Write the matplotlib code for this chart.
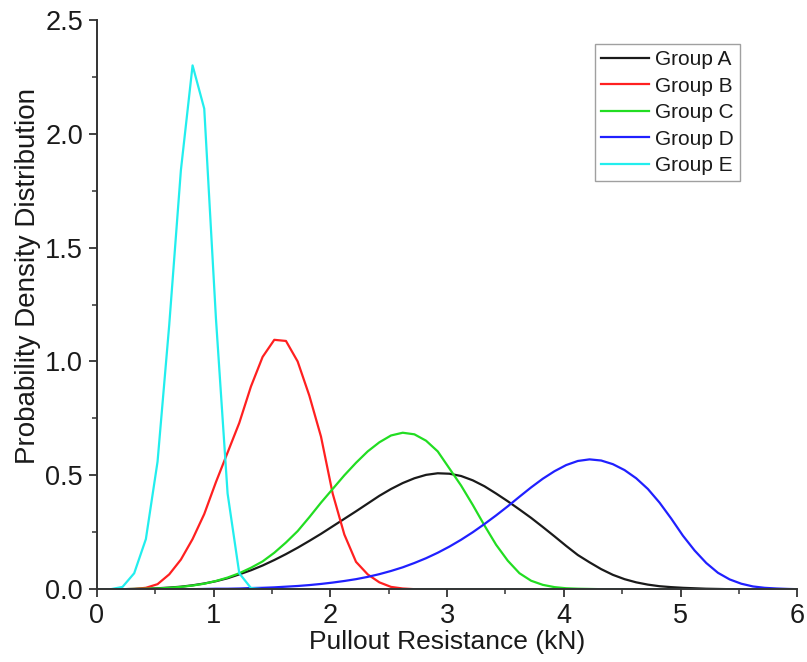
import matplotlib
matplotlib.use('agg')
import matplotlib.pyplot as plt
from matplotlib.ticker import MultipleLocator, FormatStrFormatter

plt.rcParams['font.family'] = ['Liberation Sans', 'DejaVu Sans']

# sample positions (kN), shared by all groups
x_grid = [0.0, 0.12, 0.22, 0.32, 0.42, 0.52, 0.62, 0.72, 0.82, 0.92,
          1.02, 1.12, 1.22, 1.32, 1.42, 1.52, 1.62, 1.72, 1.82, 1.92,
          2.02, 2.12, 2.22, 2.32, 2.42, 2.52, 2.62, 2.72, 2.82, 2.92,
          3.02, 3.12, 3.22, 3.32, 3.42, 3.52, 3.62, 3.72, 3.82, 3.92,
          4.02, 4.12, 4.22, 4.32, 4.42, 4.52, 4.62, 4.72, 4.82, 4.92,
          5.02, 5.12, 5.22, 5.32, 5.42, 5.52, 5.62, 5.72, 5.82, 5.92,
          6.0]

group_a = [0, 0, 0, 0.001, 0.002, 0.004, 0.007, 0.011, 0.017, 0.025,
           0.035, 0.048, 0.065, 0.083, 0.104, 0.128, 0.154, 0.182, 0.212, 0.243,
           0.276, 0.309, 0.342, 0.376, 0.410, 0.440, 0.466, 0.487, 0.502, 0.509,
           0.507, 0.497, 0.478, 0.452, 0.420, 0.386, 0.350, 0.313, 0.273, 0.232,
           0.190, 0.150, 0.118, 0.088, 0.063, 0.044, 0.030, 0.020, 0.013, 0.009,
           0.006, 0.004, 0.002, 0.001, 0, 0, 0, 0, 0, 0,
           0]

group_b = [0, 0, 0, 0.001, 0.006, 0.022, 0.065, 0.13, 0.22, 0.33,
           0.47, 0.60, 0.73, 0.89, 1.02, 1.095, 1.09, 1.00, 0.85, 0.67,
           0.42, 0.24, 0.12, 0.065, 0.03, 0.01, 0.003, 0, 0, 0,
           0, 0, 0, 0, 0, 0, 0, 0, 0, 0,
           0, 0, 0, 0, 0, 0, 0, 0, 0, 0,
           0, 0, 0, 0, 0, 0, 0, 0, 0, 0,
           0]

group_c = [0, 0, 0, 0.001, 0.002, 0.003, 0.006, 0.010, 0.016, 0.024,
           0.036, 0.051, 0.070, 0.094, 0.122, 0.160, 0.205, 0.255, 0.316, 0.380,
           0.440, 0.500, 0.555, 0.605, 0.645, 0.675, 0.687, 0.680, 0.652, 0.605,
           0.530, 0.455, 0.370, 0.280, 0.195, 0.125, 0.070, 0.037, 0.019, 0.009,
           0.004, 0.002, 0.001, 0, 0, 0, 0, 0, 0, 0,
           0, 0, 0, 0, 0, 0, 0, 0, 0, 0,
           0]

group_d = [0, 0, 0, 0, 0, 0, 0, 0, 0, 0.001,
           0.002, 0.002, 0.003, 0.005, 0.006, 0.008, 0.011, 0.014, 0.018, 0.023,
           0.029, 0.036, 0.044, 0.054, 0.066, 0.080, 0.096, 0.115, 0.136, 0.160,
           0.187, 0.217, 0.250, 0.286, 0.324, 0.364, 0.406, 0.447, 0.485, 0.518,
           0.545, 0.563, 0.570, 0.565, 0.549, 0.523, 0.487, 0.440, 0.380, 0.310,
           0.235, 0.170, 0.115, 0.072, 0.043, 0.024, 0.012, 0.006, 0.003, 0.001,
           0]

group_e = [0, 0, 0.01, 0.07, 0.22, 0.56, 1.16, 1.84, 2.30, 2.11,
           1.19, 0.42, 0.07, 0.005, 0, 0, 0, 0, 0, 0,
           0, 0, 0, 0, 0, 0, 0, 0, 0, 0,
           0, 0, 0, 0, 0, 0, 0, 0, 0, 0,
           0, 0, 0, 0, 0, 0, 0, 0, 0, 0,
           0, 0, 0, 0, 0, 0, 0, 0, 0, 0,
           0]

labels = ['Group A', 'Group B', 'Group C', 'Group D', 'Group E']
colors = ['#1a1a1a', '#ff2020', '#22dd22', '#2020ff', '#22eeee']

fig = plt.figure(figsize=(8.07, 6.62), dpi=100)
ax = fig.add_axes([0.120, 0.110, 0.868, 0.860])

for ys, lab, col in zip([group_a, group_b, group_c, group_d, group_e], labels, colors):
    ax.plot(x_grid, ys, color=col, linewidth=1.6, label=lab)

ax.set_xlim(0, 6)
ax.set_ylim(0, 2.5)
ax.xaxis.set_major_locator(MultipleLocator(1))
ax.xaxis.set_minor_locator(MultipleLocator(0.5))
ax.yaxis.set_major_locator(MultipleLocator(0.5))
ax.yaxis.set_minor_locator(MultipleLocator(0.25))
ax.yaxis.set_major_formatter(FormatStrFormatter('%.1f'))

for side in ['top', 'right']:
    ax.spines[side].set_visible(False)
for side in ['left', 'bottom']:
    ax.spines[side].set_linewidth(1.4)
    ax.spines[side].set_color('#333333')

ax.tick_params(which='major', direction='out', length=6, width=1.3, labelsize=19.5,
               colors='#333333', pad=4)
ax.tick_params(which='minor', direction='out', length=3.5, width=1.1, colors='#333333')
ax.tick_params(labelcolor='#1a1a1a')

ax.set_xlabel('Pullout Resistance (kN)', fontsize=19, color='#1a1a1a', labelpad=1)
ax.set_ylabel('Probability Density Distribution', fontsize=20, color='#1a1a1a')
ax.yaxis.set_label_coords(-0.080, 0.55)

leg = ax.legend(loc='upper right', bbox_to_anchor=(0.9186, 0.958), borderaxespad=0,
                fontsize=15, frameon=True, fancybox=False, handlelength=2.3,
                labelspacing=0.36, borderpad=0.3, handletextpad=0.3)
leg.get_frame().set_edgecolor('#888888')
leg.get_frame().set_linewidth(1.0)
for t in leg.get_texts():
    t.set_color('#1a1a1a')

fig.savefig('out.png', dpi=100)
